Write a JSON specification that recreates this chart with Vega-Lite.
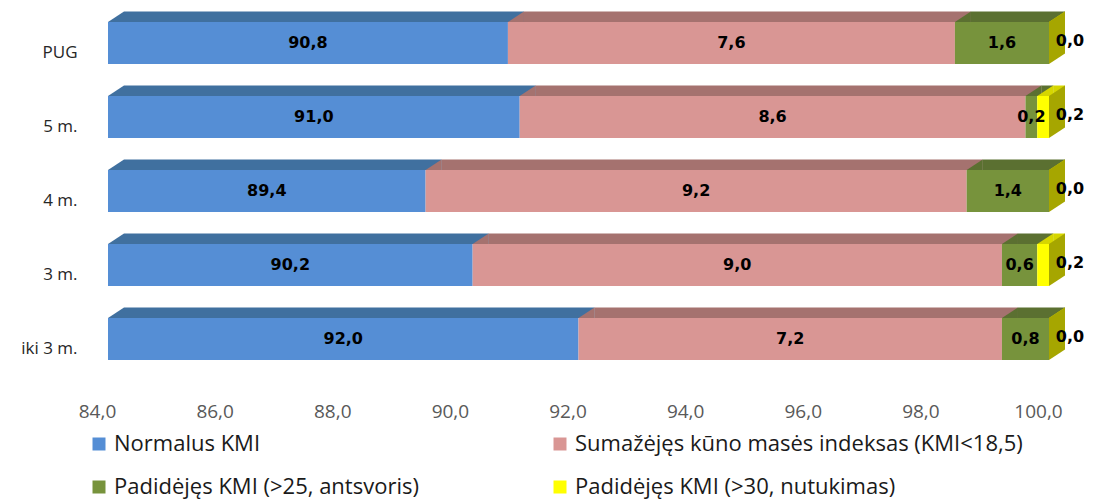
{
  "$schema": "https://vega.github.io/schema/vega-lite/v6.json",
  "width": 941,
  "height": 370,
  "autosize": {"type": "none"},
  "padding": {"left": 108, "top": 16, "right": 44, "bottom": 113},
  "background": "white",
  "config": {
    "view": {"stroke": null},
    "locale": {"number": {"decimal": ",", "thousands": ".", "grouping": [3], "currency": ["", " €"]}}
  },
  "data": {
    "values": [
      {"cat": "PUG", "series": "Normalus KMI", "order": 1, "value": 90.8},
      {"cat": "PUG", "series": "Sumažėjęs kūno masės indeksas (KMI<18,5)", "order": 2, "value": 7.6},
      {"cat": "PUG", "series": "Padidėjęs KMI (>25, antsvoris)", "order": 3, "value": 1.6},
      {"cat": "PUG", "series": "Padidėjęs KMI (>30, nutukimas)", "order": 4, "value": 0.0},
      {"cat": "5 m.", "series": "Normalus KMI", "order": 1, "value": 91.0},
      {"cat": "5 m.", "series": "Sumažėjęs kūno masės indeksas (KMI<18,5)", "order": 2, "value": 8.6},
      {"cat": "5 m.", "series": "Padidėjęs KMI (>25, antsvoris)", "order": 3, "value": 0.2},
      {"cat": "5 m.", "series": "Padidėjęs KMI (>30, nutukimas)", "order": 4, "value": 0.2},
      {"cat": "4 m.", "series": "Normalus KMI", "order": 1, "value": 89.4},
      {"cat": "4 m.", "series": "Sumažėjęs kūno masės indeksas (KMI<18,5)", "order": 2, "value": 9.2},
      {"cat": "4 m.", "series": "Padidėjęs KMI (>25, antsvoris)", "order": 3, "value": 1.4},
      {"cat": "4 m.", "series": "Padidėjęs KMI (>30, nutukimas)", "order": 4, "value": 0.0},
      {"cat": "3 m.", "series": "Normalus KMI", "order": 1, "value": 90.2},
      {"cat": "3 m.", "series": "Sumažėjęs kūno masės indeksas (KMI<18,5)", "order": 2, "value": 9.0},
      {"cat": "3 m.", "series": "Padidėjęs KMI (>25, antsvoris)", "order": 3, "value": 0.6},
      {"cat": "3 m.", "series": "Padidėjęs KMI (>30, nutukimas)", "order": 4, "value": 0.2},
      {"cat": "iki 3 m.", "series": "Normalus KMI", "order": 1, "value": 92.0},
      {"cat": "iki 3 m.", "series": "Sumažėjęs kūno masės indeksas (KMI<18,5)", "order": 2, "value": 7.2},
      {"cat": "iki 3 m.", "series": "Padidėjęs KMI (>25, antsvoris)", "order": 3, "value": 0.8},
      {"cat": "iki 3 m.", "series": "Padidėjęs KMI (>30, nutukimas)", "order": 4, "value": 0.0}
    ]
  },
  "transform": [
    {"stack": "value", "groupby": ["cat"], "sort": [{"field": "order", "order": "ascending"}], "as": ["x0", "x1"]},
    {"calculate": "(max(datum.x0, 84) + datum.x1) / 2", "as": "xm"}
  ],
  "encoding": {
    "y": {
      "field": "cat", "type": "nominal",
      "sort": ["PUG", "5 m.", "4 m.", "3 m.", "iki 3 m."],
      "scale": {"paddingInner": 0, "paddingOuter": 0},
      "axis": {"title": null, "domain": false, "ticks": false, "labelPadding": 31, "labelFont": "Open Sans", "labelFontSize": 17, "labelColor": "#262626"}
    }
  },
  "layer": [
    {
      "mark": {"type": "bar", "height": 10.5, "yOffset": -36.25, "xOffset": 16, "x2Offset": 16},
      "encoding": {
        "x": {"field": "x0", "type": "quantitative", "scale": {"domain": [84, 100], "clamp": true, "nice": false, "zero": false},
          "axis": {"values": [84, 86, 88, 90, 92, 94, 96, 98, 100], "format": ".1f", "grid": false, "domain": false, "ticks": false, "tickSize": 0, "labelFlush": false, "labelPadding": 16, "labelOffset": -11, "title": null, "labelFont": "Open Sans", "labelFontSize": 19, "labelColor": "#595959"}},
        "x2": {"field": "x1"},
        "color": {"field": "series", "type": "nominal", "legend": null,
          "scale": {"domain": ["Normalus KMI", "Sumažėjęs kūno masės indeksas (KMI<18,5)", "Padidėjęs KMI (>25, antsvoris)", "Padidėjęs KMI (>30, nutukimas)"], "range": ["#40709F", "#A5726F", "#5B7031", "#D6D600"]}}
      }
    },
    {
      "mark": {"type": "point", "shape": "M0,-21L16,-31.5L16,-21Z", "size": 4, "filled": true, "opacity": 1, "yOffset": -10, "strokeWidth": 0},
      "encoding": {
        "x": {"field": "x0", "type": "quantitative"},
        "color": {"field": "series", "type": "nominal", "legend": null,
          "scale": {"domain": ["Normalus KMI", "Sumažėjęs kūno masės indeksas (KMI<18,5)", "Padidėjęs KMI (>25, antsvoris)", "Padidėjęs KMI (>30, nutukimas)"], "range": ["#40709F", "#A5726F", "#5B7031", "#D6D600"]}}
      }
    },
    {
      "mark": {"type": "bar", "height": 42, "yOffset": -10},
      "encoding": {
        "x": {"field": "x0", "type": "quantitative"},
        "x2": {"field": "x1"},
        "color": {"field": "series", "type": "nominal",
          "scale": {"domain": ["Normalus KMI", "Sumažėjęs kūno masės indeksas (KMI<18,5)", "Padidėjęs KMI (>25, antsvoris)", "Padidėjęs KMI (>30, nutukimas)"], "range": ["#558ED5", "#D99694", "#77933C", "#FFFF00"]},
          "legend": {"title": null, "orient": "none", "direction": "horizontal", "legendX": -20, "legendY": 417, "columns": 2, "columnPadding": 130, "rowPadding": 21, "symbolType": "square", "symbolSize": 169, "symbolStrokeWidth": 0, "labelFont": "Open Sans", "labelFontSize": 22, "labelColor": "#1a1a1a", "labelLimit": 600, "labelOffset": 4}}
      }
    },
    {
      "transform": [{"filter": "datum.order == 4"}],
      "mark": {"type": "point", "shape": "M0,-21L16,-31.5L16,10.5L0,21Z", "size": 4, "filled": true, "opacity": 1, "yOffset": -10, "strokeWidth": 0, "color": "#A6A600"},
      "encoding": {
        "x": {"field": "x1", "type": "quantitative"}
      }
    },
    {
      "transform": [{"filter": "datum.order < 4"}],
      "mark": {"type": "text", "font": "DejaVu Sans", "fontWeight": "bold", "fontSize": 16, "color": "#000000", "align": "center", "baseline": "middle", "yOffset": -10},
      "encoding": {
        "x": {"field": "xm", "type": "quantitative"},
        "text": {"field": "value", "type": "quantitative", "format": ".1f"}
      }
    },
    {
      "transform": [{"filter": "datum.order == 4"}],
      "mark": {"type": "text", "font": "DejaVu Sans", "fontWeight": "bold", "fontSize": 16, "color": "#000000", "align": "center", "baseline": "middle", "yOffset": -12, "dx": 21},
      "encoding": {
        "x": {"field": "x1", "type": "quantitative"},
        "text": {"field": "value", "type": "quantitative", "format": ".1f"}
      }
    }
  ],
  "resolve": {"scale": {"color": "independent"}}
}
